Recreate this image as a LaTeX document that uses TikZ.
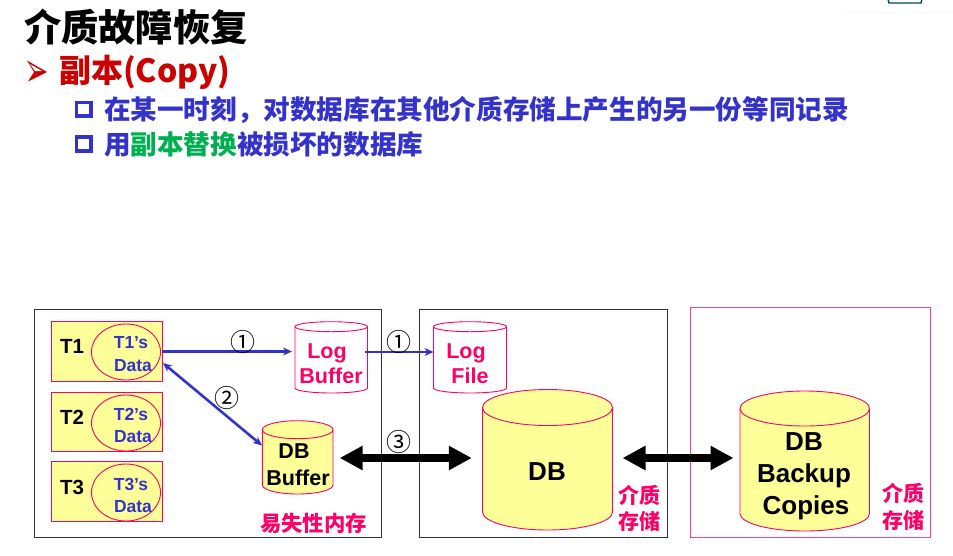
\documentclass[tikz,border=0pt]{standalone}
\usepackage{fontspec}
\setmainfont{Liberation Sans}
\newfontfamily\cjk{Noto Sans CJK SC}
\usetikzlibrary{arrows.meta,shapes.geometric}
\definecolor{pinkc}{HTML}{FF0066}
\definecolor{bluec}{HTML}{3333CC}
\definecolor{redc}{HTML}{CC0000}
\definecolor{greenc}{HTML}{00B050}
\definecolor{yellowc}{HTML}{FFFF99}
\definecolor{framec}{HTML}{333333}
\newcommand{\fs}[1]{\fontsize{#1}{#1}\selectfont}
\tikzset{
  txt/.style={inner sep=0pt,outer sep=0pt,font=\bfseries},
  cjktxt/.style={inner sep=0pt,outer sep=0pt},
  frame/.style={draw=framec,line width=1pt,fill=white},
  tbox/.style={draw=pinkc,line width=0.9pt,fill=yellowc},
  tell/.style={draw=pinkc,line width=0.9pt},
  blueln/.style={draw=bluec,line width=2.6pt,-{Stealth[length=9pt,width=8pt]}},
  bluedbl/.style={draw=bluec,line width=2.6pt,{Stealth[length=9pt,width=8pt]}-{Stealth[length=9pt,width=8pt]}},
  fat/.style={draw=black,line width=7.5pt,{Triangle[length=23pt,width=23pt]}-{Triangle[length=23pt,width=23pt]}},
  num/.style={inner sep=0pt,font=\cjk\fs{25}}
}
% name, x1, y1, x2, y2, ry, fill
\newcommand{\cyl}[7]{%
  \path[draw=pinkc,line width=0.9pt,fill=#7]
    (#2,#3+#6) -- (#2,#5-#6) arc[start angle=180,end angle=0,x radius={(#4-#2)/2},y radius=#6]
    -- (#4,#3+#6) arc[start angle=0,end angle=-180,x radius={(#4-#2)/2},y radius=#6] -- cycle;
  \path[draw=pinkc,line width=0.9pt]
    (#2,#3+#6) arc[start angle=180,end angle=0,x radius={(#4-#2)/2},y radius=#6];
  \node[inner sep=0pt,outer sep=0pt,minimum width={(#4-#2)*1pt},minimum height={(#5-#3)*1pt}] (#1) at ({(#2+#4)/2},{(#3+#5)/2}) {};
}
\begin{document}
\begin{tikzpicture}[x=1pt,y=-1pt]
\useasboundingbox[fill=white] (0,0) rectangle (953,555);
% corner logo fragment
\fill[fill=black!3] (843,12) rectangle (953,13);
\draw[draw=teal!60!black,line width=1.4pt] (888,-1) -- (889,3) -- (921,3) -- (922,-1);
% heading
\node[cjktxt,anchor=west] (title) at (24,27) {\cjk\bfseries\fs{37.3}介质故障恢复};
\path[fill=redc] (27,60.5) -- (47,72) -- (28,81.5) -- (34,72) -- cycle;
\path[fill=white] (30,64) -- (42,71) -- (35,71) -- cycle;
\node[cjktxt,anchor=west,text=redc] (copy) at (59,72) {\cjk\bfseries\fs{32}副本(Copy)};
\draw[bluec,line width=3.6pt] (76.5,102.5) rectangle (91,116);
\node[cjktxt,anchor=west,text=bluec] (l1) at (104,110) {\cjk\bfseries\fs{26.6}在某一时刻，对数据库在其他介质存储上产生的另一份等同记录};
\draw[bluec,line width=3.6pt] (76.5,137) rectangle (91,151);
\node[cjktxt,anchor=west,text=bluec] (l2) at (104,144) {\cjk\bfseries\fs{26.6}用\textcolor{greenc}{副本替换}被损坏的数据库};
% frames
\node[frame,minimum width=347pt,minimum height=228pt,inner sep=0pt,outer sep=0pt] (fr1) at (207.5,423) {};
\node[frame,minimum width=248pt,minimum height=228pt,inner sep=0pt,outer sep=0pt] (fr2) at (543,423) {};
\node[draw=pinkc!75!white,line width=0.9pt,minimum width=240pt,minimum height=230pt,inner sep=0pt,outer sep=0pt] (fr3) at (810,422) {};
% transactions
\node[tbox,minimum width=110.5pt,minimum height=59.5pt,inner sep=0pt,outer sep=0pt] (t1box) at (107,351.5) {};
\node[tbox,minimum width=110.5pt,minimum height=59.5pt,inner sep=0pt,outer sep=0pt] (t2box) at (107,422) {};
\node[tbox,minimum width=110.5pt,minimum height=59.5pt,inner sep=0pt,outer sep=0pt] (t3box) at (107,491.5) {};
\node[tell,ellipse,minimum width=69pt,minimum height=56pt,inner sep=0pt,outer sep=0pt] (t1e) at (126,352) {};
\node[tell,ellipse,minimum width=69pt,minimum height=56pt,inner sep=0pt,outer sep=0pt] (t2e) at (126,423) {};
\node[tell,ellipse,minimum width=69pt,minimum height=57pt,inner sep=0pt,outer sep=0pt] (t3e) at (126,492.5) {};
\foreach \n/\y in {1/346,2/417,3/487}{
  \node[txt] (tl\n) at (72,\y) {\fs{20.5}T\n};
  \node[txt,text=bluec] (tn\n) at (131,\y-3) {\fs{17.5}T\n’s};
  \node[txt,text=bluec] (td\n) at (133,\y+20) {\fs{17.5}Data};
}
% cylinders
\cyl{logbuf}{295}{321.7}{367.5}{393}{5}{white}
\cyl{logfile}{433.5}{321.7}{506.5}{393}{5}{white}
\cyl{dbbuf}{262.3}{420.7}{333}{494}{9}{yellowc}
\cyl{db}{482.5}{389.5}{612.5}{530}{18}{yellowc}
\cyl{backup}{740}{391}{869.5}{531}{17.5}{yellowc}
\node[txt,text=pinkc] (a1) at (327,353) {\fs{21.5}Log};
\node[txt,text=pinkc] (a2) at (331,376) {\fs{21.5}Buffer};
\node[txt,text=pinkc] (b1) at (466,353) {\fs{21.5}Log};
\node[txt,text=pinkc] (b2) at (470,376) {\fs{21.5}File};
\node[txt] (c1) at (294,451) {\fs{21.5}DB};
\node[txt] (c2) at (298,478) {\fs{21.5}Buffer};
\node[txt] (d1) at (547,472) {\fs{26}DB};
\node[txt] (e1) at (804,442) {\fs{26}DB};
\node[txt] (e2) at (804,476) {\fs{26}Backup};
\node[txt] (e3) at (806,508) {\fs{26}Copies};
\node[cjktxt,text=pinkc] (m0) at (313.5,523) {\cjk\bfseries\fs{21.4}易失性内存};
\node[cjktxt,text=pinkc] (m1) at (639,495) {\cjk\bfseries\fs{21}介质};
\node[cjktxt,text=pinkc] (m2) at (639,521) {\cjk\bfseries\fs{21}存储};
\node[cjktxt,text=pinkc] (m3) at (903,493) {\cjk\bfseries\fs{21}介质};
\node[cjktxt,text=pinkc] (m4) at (903,520) {\cjk\bfseries\fs{21}存储};
% connectors
\coordinate (t1a) at (t1box.east);
\coordinate (t1b) at (163,363);
\coordinate (dbin) at (262,445.5);
\draw[blueln,shorten >=3pt] (t1a) -- (t1a -| logbuf.west);
\coordinate (lbo) at (365,352);
\draw[blueln] (lbo) -- (lbo -| logfile.west);
\draw[bluedbl] (t1b) -- (dbin);
\draw[fat,shorten <=6.7pt,shorten >=10.7pt] (dbbuf.east |- 0,458) -- (db.west |- 0,458);
\draw[fat,shorten <=10pt,shorten >=6.5pt] (db.east |- 0,458) -- (backup.west |- 0,458);
\node[num] (n1) at (243,342) {①};
\node[num] (n2) at (399,342) {①};
\node[num] (n3) at (227,398) {②};
\node[num] (n4) at (399,442) {③};
\end{tikzpicture}
\end{document}
